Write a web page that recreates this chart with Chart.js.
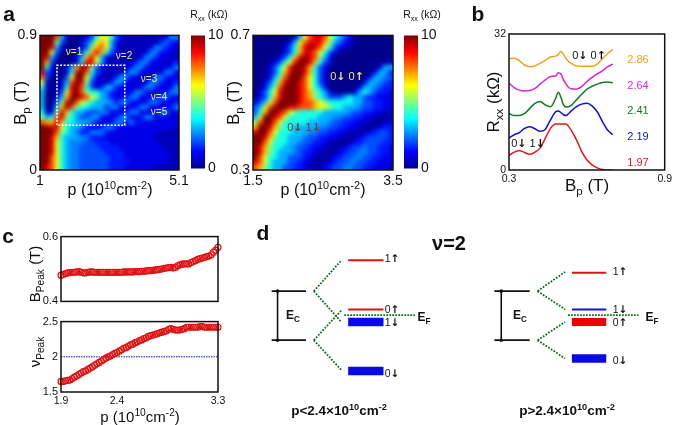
<!DOCTYPE html>
<html>
<head>
<meta charset="utf-8">
<script src="https://cdn.jsdelivr.net/npm/chart.js@4/dist/chart.umd.min.js"></script>
<style>
  html, body { margin: 0; padding: 0; background: #fff; }
  #page { position: relative; width: 675px; height: 425px; overflow: hidden; font-family: "Liberation Sans", Arial, sans-serif; color: #111; }
  canvas { position: absolute; }
  .lbl { position: absolute; white-space: nowrap; line-height: 1; transform: translate(-50%, -50%); }
  sup, sub { font-size: .68em; line-height: 0; }
  .arr { font-family: "DejaVu Sans", sans-serif; font-weight: bold; }
</style>
</head>
<body>
<div id="page"></div>
<script>
// Resistance maps, one character per cell, top row first.
// 0-9 is kOhm, A is 10, and a b c are 0.5 1.5 2.5
var heatA = [
  "AAA83100012466421aaaaaaaa1cc",
  "AAA5200012367631aaaaaaaabcb1",
  "AA93100012578631aaaaaa1ccb11",
  "AA62000124797421aaaaa1cc111a",
  "A9310001379631aaaaaa1ccb11aa",
  "A7200001499631aaaaabcc111a1b",
  "A4100137A9521aaaaabcc111a1bc",
  "92100149A8421aaaab3c111a1cc1",
  "8200026AA631aaab3c111a1ccb11",
  "6100138A9521aab3c111a1ccb11b",
  "4a00149A842ab33b111a1ccb111c",
  "300a269A85443cb1111ccb1111cc",
  "300137AA98653cb11bcc111bcc11",
  "300259A8654333cbcc111bcc111b",
  "30037A8544333bcc111bcc1111bc",
  "411597433222cc111bcc111bcc11",
  "5348954322c3b11bcc11bcc1111a",
  "8779744333c1111ccbcb11111111",
  "AA996433cb11bccb11111111111a",
  "AAA8543cbbcccb1111111111aaaa",
  "AA974333ccbbb1111111111aaaaa",
  "AA9643ccc22bbb1111111111aaaa",
  "AA9643cc2222bbbb111111111aaa",
  "AA9643cc22222bbbb111111111aa",
  "AA8643cc222222bbb111111111aa",
  "AA8643cc222222bbbb11111111aa",
  "A98643cc222222bbb111111aaaaa"
];
var heatB = [
  "0000000013689986432100000000",
  "0000000136899975321100000000",
  "00000012479A9864211000000000",
  "0000001247998642100000000000",
  "0000012479A98531000000000000",
  "000012469AA97421000000000001",
  "00012469AA974210000000000133",
  "00012479AA97421000000000133b",
  "0001358AAA8642100000000133c2",
  "0012479AA9864210000000133c2b",
  "001358AAA986431000000133c2bb",
  "012469AAA9875431000013432bb1",
  "012479AAA98754322234332bb111",
  "12368AAAA988765444443322bb11",
  "2368AAA99888766544333c22bb11",
  "247AA98654444433333c22bb11aa",
  "36AA986444444333cc22bb11aa0a",
  "58AA86444443333c22bb11aa00a1",
  "7AA9754433333cc22bb11aa0a1bb",
  "9AA86444333cc22bb11aa0a1b22b",
  "AA97544333c22bb11aa0a1b2222b",
  "AA8644433c22bb1aa00a1b2222bb",
  "A9754433c22b11aa0a1b22c22bb1",
  "A9754333c2bb1aa0a1b22cc22bb1",
  "A864433222b1aa0a1b22cc22bb11",
  "986433322b1aa0a1b22cc22bb111",
  "87543322bb1aaa1b22cc22bb111a"
];

// Panel b, Rxx against Bp for each density
var bpValues = [0.30, 0.32, 0.34, 0.36, 0.38, 0.40, 0.42, 0.44, 0.46, 0.48, 0.49, 0.50, 0.51, 0.52, 0.53, 0.54, 0.56, 0.58, 0.60, 0.62, 0.64, 0.66, 0.68, 0.70];
var rxx286 = [26.2, 26.3, 25.7, 24.7, 24.3, 24.5, 25.1, 25.8, 26.6, 26.8, 27.2, 27.9, 27.2, 26.2, 25.5, 25.1, 24.5, 24.4, 24.4, 24.4, 24.9, 26.2, 27.4, 28.3];
var rxx264 = [20.4, 19.4, 18.8, 18.6, 18.7, 19.2, 20.2, 21.2, 22.0, 22.1, 22.9, 22.6, 21.2, 20.2, 19.4, 19.1, 19.0, 19.6, 20.8, 21.8, 22.6, 23.3, 24.3, 24.9];
var rxx241 = [13.3, 12.8, 12.8, 13.3, 14.5, 15.7, 16.1, 15.3, 14.9, 16.9, 18.3, 17.1, 15.3, 14.8, 14.9, 15.2, 16.5, 17.8, 19.0, 19.7, 20.2, 20.6, 20.7, 20.5];
var rxx219 = [7.5, 8.3, 8.8, 9.8, 10.2, 9.7, 9.1, 9.6, 11.8, 13.7, 13.9, 13.5, 13.0, 12.8, 13.3, 13.9, 14.9, 15.5, 15.7, 15.1, 13.7, 11.4, 9.4, 8.3];
var rxx197 = [3.4, 4.2, 4.6, 4.1, 3.7, 4.2, 5.2, 7.5, 9.8, 10.8, 10.8, 10.8, 10.8, 10.8, 10.2, 9.3, 7.1, 4.4, 2.4, 1.2, 0.5, 0.1, 0, 0];

// Panel c, peak position against density
var pPeak = [1.90, 1.92, 1.94, 1.96, 1.98, 2.00, 2.02, 2.04, 2.06, 2.08, 2.10, 2.12, 2.14, 2.16, 2.18, 2.20, 2.22, 2.24, 2.26, 2.28, 2.30, 2.32, 2.34, 2.36, 2.38, 2.40, 2.42, 2.44, 2.46, 2.48, 2.50, 2.52, 2.54, 2.56, 2.58, 2.60, 2.62, 2.64, 2.66, 2.68, 2.70, 2.72, 2.74, 2.76, 2.78, 2.80, 2.82, 2.84, 2.86, 2.88, 2.90, 2.92, 2.94, 2.96, 2.98, 3.00, 3.02, 3.04, 3.06, 3.08, 3.10, 3.12, 3.14, 3.16, 3.18, 3.20, 3.22, 3.24, 3.26, 3.28, 3.30];
var bPeak = [.481, .483, .486, .488, .489, .490, .490, .491, .492, .490, .488, .488, .490, .491, .491, .490, .490, .490, .490, .490, .490, .490, .490, .490, .490, .490, .490, .490, .491, .491, .491, .491, .491, .492, .492, .492, .493, .493, .494, .495, .495, .496, .497, .498, .499, .500, .502, .503, .504, .505, .503, .505, .510, .513, .515, .516, .516, .516, .520, .523, .526, .530, .532, .534, .536, .538, .540, .544, .552, .558, .567];
var nuPeak = [1.65, 1.65, 1.66, 1.665, 1.67, 1.69, 1.71, 1.73, 1.75, 1.77, 1.79, 1.80, 1.82, 1.84, 1.86, 1.88, 1.90, 1.92, 1.94, 1.96, 1.98, 2.00, 2.01, 2.03, 2.05, 2.06, 2.08, 2.10, 2.12, 2.13, 2.15, 2.17, 2.18, 2.20, 2.21, 2.23, 2.24, 2.26, 2.27, 2.29, 2.30, 2.31, 2.32, 2.33, 2.34, 2.35, 2.36, 2.37, 2.39, 2.40, 2.39, 2.38, 2.38, 2.38, 2.39, 2.40, 2.42, 2.42, 2.42, 2.42, 2.42, 2.42, 2.43, 2.43, 2.42, 2.42, 2.42, 2.42, 2.42, 2.42, 2.42];

// Panel d, schematic levels: x1, x2, energy position
var ecLevels = [[268, 303, 290], [268, 303, 341], [495, 531, 290], [495, 531, 341]];
var ecArrows = [[274, 290, 341], [502, 290, 341]];
var splitLines = [
  [311, 290, 339, 258], [311, 290, 339, 322], [311, 341, 339, 310], [311, 341, 339, 372],
  [539, 290, 567, 270], [539, 290, 567, 309], [539, 341, 567, 322], [539, 341, 567, 360]
];
var fermiLines = [[342, 414, 315], [570, 642, 315]];
var redThin = [[346, 382, 258], [346, 382, 309], [574, 609, 271]];
var blueThin = [[574, 609, 309]];
var redThick = [[574, 609, 322]];
var blueThick = [[346, 382, 322], [346, 382, 373], [574, 609, 360]];

var jetStops = [[0, [0, 0, 140]], [.125, [0, 0, 255]], [.375, [0, 255, 255]], [.625, [255, 255, 0]], [.875, [255, 0, 0]], [1, [128, 0, 0]]];
var halfSteps = { a: .5, b: 1.5, c: 2.5, A: 10 };
var page = document.getElementById('page');
var mainFont = '"Liberation Sans", Arial, sans-serif';

function jet(t) {
  for (var i = 1; i < jetStops.length; i++) {
    if (t <= jetStops[i][0]) {
      var a = jetStops[i - 1], b = jetStops[i];
      var f = (t - a[0]) / (b[0] - a[0]);
      return 'rgb(' + [0, 1, 2].map(function(k) { return Math.round(a[1][k] + (b[1][k] - a[1][k]) * f); }).join(',') + ')';
    }
  }
  return 'rgb(128,0,0)';
}

function label(html, x, y, size, opts) {
  opts = opts || {};
  var d = document.createElement('div');
  d.className = 'lbl';
  d.innerHTML = html;
  d.style.left = x + 'px';
  d.style.top = y + 'px';
  d.style.fontSize = size + 'px';
  if (opts.color) d.style.color = opts.color;
  if (opts.bold) d.style.fontWeight = 'bold';
  if (opts.rotate) d.style.transform = 'translate(-50%, -50%) rotate(-90deg)';
  page.appendChild(d);
}

// black frame round the plot area
var framePlugin = {
  id: 'frame',
  afterDraw: function(chart, args, opts) {
    if (!opts.show) return;
    var a = chart.chartArea, c = chart.ctx;
    c.save();
    c.strokeStyle = '#111';
    c.lineWidth = 1.5;
    c.strokeRect(a.left, a.top, a.right - a.left, a.bottom - a.top);
    c.restore();
  }
};

// soften the map cells like the original interpolated image
var smoothPlugin = {
  id: 'smooth',
  afterDatasetDraw: function(chart, args, opts) {
    if (opts.index !== args.index) return;
    var a = chart.chartArea, c = chart.ctx;
    c.save();
    c.beginPath();
    c.rect(a.left, a.top, a.right - a.left, a.bottom - a.top);
    c.clip();
    c.filter = 'blur(2px)';
    c.drawImage(chart.canvas, 0, 0);
    c.restore();
  }
};

function addChart(box, pad, config) {
  var canvas = document.createElement('canvas');
  canvas.width = box.w + pad.left + pad.right;
  canvas.height = box.h + pad.top + pad.bottom;
  canvas.style.left = (box.x - pad.left) + 'px';
  canvas.style.top = (box.y - pad.top) + 'px';
  page.appendChild(canvas);
  config.options.responsive = false;
  config.options.animation = false;
  config.options.events = [];
  config.options.layout = { padding: { top: pad.top, right: pad.rightAxis ? 0 : pad.right, left: 0, bottom: pad.bottomPad || 0 } };
  config.options.plugins = Object.assign({ legend: { display: false }, tooltip: { enabled: false }, frame: { show: true } }, config.options.plugins || {});
  config.plugins = [framePlugin, smoothPlugin];
  return new Chart(canvas.getContext('2d'), config);
}

function axis(min, max, ticks, size, fit, extra) {
  return Object.assign({
    type: 'linear', min: min, max: max,
    grid: { display: false, drawTicks: false },
    border: { display: false },
    ticks: { color: '#111', padding: 3, autoSkip: false, maxRotation: 0, font: { size: size, family: mainFont }, callback: function(v) { return String(v); } },
    afterBuildTicks: function(s) { s.ticks = ticks.map(function(v) { return { value: v }; }); },
    afterFit: function(s) { if (s.isHorizontal()) s.height = fit; else s.width = fit; }
  }, extra || {});
}

function heatPoints(rows, xMin, xMax, yMin, yMax) {
  var pts = [], colors = [];
  rows.forEach(function(row, r) {
    for (var c = 0; c < row.length; c++) {
      var ch = row.charAt(c);
      var v = ch in halfSteps ? halfSteps[ch] : Number(ch);
      pts.push({ x: xMin + (c + .5) * (xMax - xMin) / row.length, y: yMax - (r + .5) * (yMax - yMin) / rows.length });
      colors.push(jet(v / 10));
    }
  });
  return { pts: pts, colors: colors };
}

function heatChart(box, rows, xr, yr, xTicks, yTicks, overlay) {
  var h = heatPoints(rows, xr[0], xr[1], yr[0], yr[1]);
  var datasets = (overlay || []).concat([{
    type: 'scatter', data: h.pts, pointStyle: 'rect', pointRadius: 4.1, pointBorderWidth: 0,
    pointBackgroundColor: h.colors
  }]);
  addChart(box, { left: 40, right: 30, top: 10, bottom: 26 }, {
    type: 'scatter',
    data: { datasets: datasets },
    options: {
      plugins: { smooth: { index: datasets.length - 1 } },
      scales: { x: axis(xr[0], xr[1], xTicks, 14, 26), y: axis(yr[0], yr[1], yTicks, 14, 40) }
    }
  });
}

function colorBar(box) {
  addChart(box, { left: 0, right: 30, top: 10, bottom: 10, rightAxis: true, bottomPad: 10 }, {
    type: 'bar',
    data: { labels: ['Rxx'], datasets: [{
      data: [[0, 10]], barPercentage: 1, categoryPercentage: 1,
      backgroundColor: function(ctx) {
        var a = ctx.chart.chartArea;
        if (!a) return '#00f';
        var g = ctx.chart.ctx.createLinearGradient(0, a.bottom, 0, a.top);
        jetStops.forEach(function(s) { g.addColorStop(s[0], jet(s[0])); });
        return g;
      }
    }] },
    options: {
      plugins: { frame: { show: false } },
      scales: {
        x: { display: false },
        y: axis(0, 10, [0, 10], 14, 30, { position: 'right' })
      }
    }
  });
}

// Panel a
var boxLine = { type: 'line', data: [{ x: 1.5, y: .3 }, { x: 1.5, y: .7 }, { x: 3.5, y: .7 }, { x: 3.5, y: .3 }, { x: 1.5, y: .3 }], borderColor: '#fff', borderWidth: 1.5, borderDash: [2, 1.5], pointRadius: 0, tension: 0 };
heatChart({ x: 40, y: 34, w: 139, h: 136 }, heatA, [1, 5.1], [0, .9], [1, 5.1], [0, .9], [boxLine]);
colorBar({ x: 191, y: 34, w: 14, h: 136 });
// Second map
heatChart({ x: 253, y: 34, w: 140, h: 136 }, heatB, [1.5, 3.5], [.3, .7], [1.5, 3.5], [.3, .7]);
colorBar({ x: 404, y: 34, w: 14, h: 136 });

// Panel b
function rxxSet(values, color) {
  return { data: values.map(function(v, i) { return { x: bpValues[i], y: v }; }), borderColor: color, borderWidth: 1.5, pointRadius: 0, cubicInterpolationMode: 'monotone', showLine: true };
}
addChart({ x: 509, y: 34, w: 158, h: 136 }, { left: 30, right: 8, top: 10, bottom: 16 }, {
  type: 'scatter',
  data: { datasets: [rxxSet(rxx286, '#f0a020'), rxxSet(rxx264, '#e020d8'), rxxSet(rxx241, '#107a20'), rxxSet(rxx219, '#1010d0'), rxxSet(rxx197, '#e01818')] },
  options: { scales: { x: axis(.3, .9, [.3, .9], 10.5, 16), y: axis(0, 32, [0, 32], 10.5, 30) } }
});

// Panel c
function peakSet(values) {
  return { data: values.map(function(v, i) { return { x: pPeak[i], y: v }; }), pointRadius: 3, pointBorderWidth: 1.2, pointBorderColor: '#e01010', pointBackgroundColor: 'transparent', clip: false };
}
addChart({ x: 61, y: 235, w: 157, h: 72 }, { left: 30, right: 10, top: 8, bottom: 4 }, {
  type: 'scatter',
  data: { datasets: [peakSet(bPeak)] },
  options: { scales: { x: axis(1.9, 3.3, [], 10.5, 4), y: axis(.4, .6, [.4, .6], 11, 30) } }
});
var halfLine = { type: 'line', data: [{ x: 1.9, y: 2 }, { x: 3.3, y: 2 }], borderColor: '#1010b0', borderWidth: 1, borderDash: [1.5, 1], pointRadius: 0 };
addChart({ x: 61, y: 320, w: 157, h: 72 }, { left: 30, right: 14, top: 8, bottom: 16 }, {
  type: 'scatter',
  data: { datasets: [peakSet(nuPeak), halfLine] },
  options: { scales: { x: axis(1.9, 3.3, [1.9, 2.4, 3.3], 10.5, 16), y: axis(1.5, 2.5, [1.5, 2, 2.5], 11, 30) } }
});

// Panel d
function seg(x1, y1, x2, y2, color, width, dash) {
  return { type: 'line', data: [{ x: x1, y: y1 }, { x: x2, y: y2 }], borderColor: color, borderWidth: width, borderDash: dash || [], borderCapStyle: 'butt', pointRadius: 0, tension: 0 };
}
var schematic = [];
ecLevels.forEach(function(l) { schematic.push(seg(l[0], l[2], l[1], l[2], '#111', 1.8)); });
ecArrows.forEach(function(l) {
  var s = seg(l[0], l[1], l[0], l[2], '#111', 1.6);
  s.pointRadius = 1.8;
  s.pointBackgroundColor = '#111';
  s.pointBorderWidth = 0;
  schematic.push(s);
});
splitLines.forEach(function(l) { schematic.push(seg(l[0], l[1], l[2], l[3], '#0c7020', 1.8, [1.8, 1.4])); });
fermiLines.forEach(function(l) { schematic.push(seg(l[0], l[2], l[1], l[2], '#0c7020', 1.8, [1.8, 1.2])); });
redThin.forEach(function(l) { schematic.push(seg(l[0], l[2], l[1], l[2], '#e01010', 2)); });
blueThin.forEach(function(l) { schematic.push(seg(l[0], l[2], l[1], l[2], '#1010e0', 2)); });
redThick.forEach(function(l) { schematic.push(seg(l[0], l[2], l[1], l[2], '#f00000', 8)); });
blueThick.forEach(function(l) { schematic.push(seg(l[0], l[2], l[1], l[2], '#0808e8', 8.5)); });
schematic.reverse();
addChart({ x: 250, y: 215, w: 425, h: 210 }, { left: 0, right: 0, top: 0, bottom: 0 }, {
  type: 'scatter',
  data: { datasets: schematic },
  options: {
    plugins: { frame: { show: false } },
    scales: {
      x: { type: 'linear', min: 250, max: 675, display: false },
      y: { type: 'linear', min: 215, max: 425, reverse: true, display: false }
    }
  }
});

// Text
var dn = '<span class="arr">\u2193</span>', up = '<span class="arr">\u2191</span>', nu = '\u03bd';
label('a', 9, 13, 21, { bold: true });
label('b', 478, 13, 21, { bold: true });
label('c', 8, 235, 21, { bold: true });
label('d', 263, 232, 21, { bold: true });

label('B<sub>p</sub> (T)', 20, 103, 17, { rotate: true });
label('p (10<sup>10</sup>cm<sup>-2</sup>)', 110, 190, 16);
label('R<sub>xx</sub> (k\u03a9)', 209, 14, 10.5);
label('B<sub>p</sub> (T)', 233, 103, 17, { rotate: true });
label('p (10<sup>10</sup>cm<sup>-2</sup>)', 323, 190, 16);
label('R<sub>xx</sub> (k\u03a9)', 422, 14, 10.5);

[['1', 74, 52], ['2', 124, 56], ['3', 149, 79], ['4', 159, 97], ['5', 159, 112]].forEach(function(t) {
  label(nu + '=' + t[0], t[1], t[2], 10, { color: '#f4e86a' });
});
label('0' + dn + ' 0' + up, 347, 76, 11, { color: '#f4e070' });
label('0' + dn + ' 1' + dn, 304, 127, 11, { color: '#a82818' });

label('R<sub>xx</sub> (k\u03a9)', 493, 102, 17, { rotate: true });
label('B<sub>p</sub> (T)', 587, 185, 17);
label('0' + dn + ' 0' + up, 589, 55, 11, { color: '#111' });
label('0' + dn + ' 1' + dn, 528, 143, 11, { color: '#111' });
[['2.86', 59, '#f0a020'], ['2.64', 85, '#e020d8'], ['2.41', 110, '#107a20'], ['2.19', 136, '#1010d0'], ['1.97', 162, '#e01818']].forEach(function(t) {
  label(t[0], 638, t[1], 11, { color: t[2] });
});

label('B<sub>Peak</sub> (T)', 34, 274, 15, { rotate: true });
label(nu + '<sub>Peak</sub>', 34, 352, 15, { rotate: true });
label('p (10<sup>10</sup>cm<sup>-2</sup>)', 140, 416, 15);

label(nu + '=2', 449, 243, 20, { bold: true });
[[386, 258, '1' + up], [386, 309, '0' + up], [386, 322, '1' + dn], [386, 373, '0' + dn],
 [614, 271, '1' + up], [614, 309, '1' + dn], [614, 322, '0' + up], [614, 360, '0' + dn]].forEach(function(t) {
  label(t[2], t[0] + 6, t[1], 10.5);
});
label('E<sub>C</sub>', 293, 315, 12, { bold: true });
label('E<sub>C</sub>', 520, 315, 12, { bold: true });
label('E<sub>F</sub>', 424, 317, 12, { bold: true });
label('E<sub>F</sub>', 652, 317, 12, { bold: true });
label('p&lt;2.4\u00d710<sup>10</sup>cm<sup>-2</sup>', 339, 411, 13.5, { bold: true });
label('p&gt;2.4\u00d710<sup>10</sup>cm<sup>-2</sup>', 567, 411, 13.5, { bold: true });
</script>
</body>
</html>
